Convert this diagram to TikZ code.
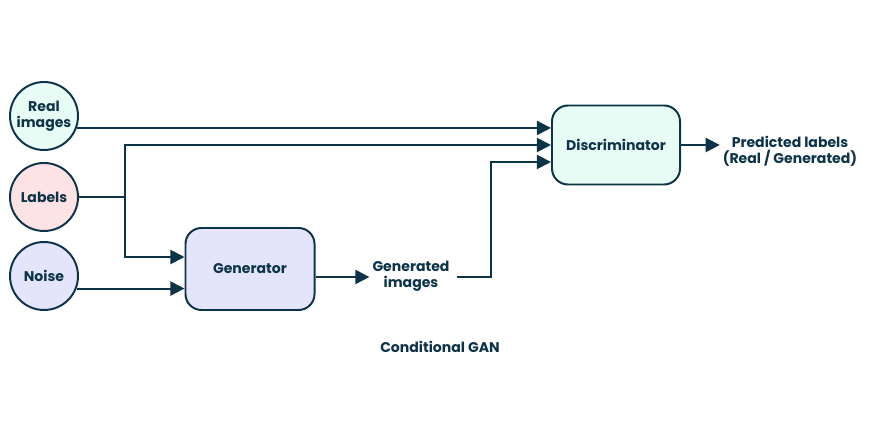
\documentclass[tikz,border=0pt]{standalone}
\usepackage{fontspec}
\setsansfont{Poppins}
\usepackage{tikz}
\usetikzlibrary{arrows.meta,positioning,calc}

\definecolor{ink}{HTML}{0D3349}
\definecolor{mint}{HTML}{E6FCF4}
\definecolor{rose}{HTML}{FDE3E3}
\definecolor{lilac}{HTML}{E4E4FB}

\begin{document}
\begin{tikzpicture}[
  x=0.025cm, y=-0.025cm,
  font=\sffamily\bfseries\fontsize{10}{11.5}\selectfont,
  text=ink,
  inp/.style={circle,draw=ink,line width=1.4pt,minimum size=1.7cm,inner sep=0pt,align=center},
  box/.style={draw=ink,line width=1.4pt,rounded corners=0.4cm,align=center},
  lbl/.style={align=center,inner sep=2pt},
  flow/.style={-{Triangle[length=10pt,width=10pt]},line width=1.4pt,draw=ink},
]
\useasboundingbox (0,0) rectangle (873,425);

% inputs (left)
\node[inp,fill=mint] (real) at (44,116) {Real\\images};
\node[inp,fill=rose] (labels) at (44,197) {Labels};
\node[inp,fill=lilac] (noise) at (44,276) {Noise};

% networks
\node[box,fill=lilac,minimum width=3.225cm,minimum height=2.05cm] (gen) at (250,269) {Generator};
\node[box,fill=mint,minimum width=3.2cm,minimum height=1.975cm] (disc) at (616,145) {Discriminator};

% outputs
\node[lbl] (genimg) at (411,276) {Generated\\images};
\node[lbl] (pred) at (790,151) {Predicted labels\\(Real / Generated)};
\node[lbl] (title) at (440,347) {Conditional GAN};

% label branch
\coordinate (br) at (125,197);
\coordinate (gout) at ($(gen.east)+(0,8)$);

\draw[flow] (real.-20) -- (real.-20 -| disc.west);
\draw[line width=1.4pt,draw=ink] (labels.east) -- (br);
\draw[flow] (br) |- (disc.west);
\draw[flow] (br) |- ($(gen.west)+(0,-12)$);
\draw[flow] (noise.-21) -- (noise.-21 -| gen.west);

\draw[flow] (gout) -- (gout -| genimg.west);
\draw[flow] ($(genimg.east)+(4,1)$) -- ++(34,0) |- ($(disc.west)+(0,17)$);
\draw[flow] (disc.east) -- (disc.east -| pred.west);
\end{tikzpicture}
\end{document}
